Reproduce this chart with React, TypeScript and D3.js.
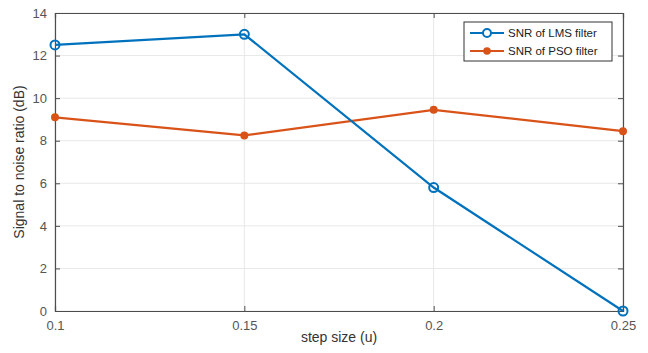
import React, { useRef, useEffect } from "react";
import * as d3 from "d3";

const stepSizes = [0.1, 0.15, 0.2, 0.25];
const lmsSnr = [12.5, 13.0, 5.8, 0];
const psoSnr = [9.1, 8.25, 9.45, 8.45];
const xTicks = [0.1, 0.15, 0.2, 0.25];
const yTicks = [0, 2, 4, 6, 8, 10, 12, 14];
const seriesNames = ["SNR of LMS filter", "SNR of PSO filter"];

const W = 648;
const H = 353;

const Chart = () => {
  const ref = useRef<SVGSVGElement>(null);

  useEffect(() => {
    const svg = d3.select(ref.current);
    svg.selectAll("*").remove();

    const margin = { top: 13, right: 25, bottom: 42, left: 55 };
    const width = W - margin.left - margin.right;
    const height = H - margin.top - margin.bottom;
    const font = "'Liberation Sans', Arial, sans-serif";
    const axisColor = "#4d4d4d";

    svg.append("rect").attr("width", W).attr("height", H).attr("fill", "#fff");

    const g = svg.append("g").attr("transform", `translate(${margin.left},${margin.top})`);

    const x = d3.scaleLinear().domain([0.1, 0.25]).range([0, width]);
    const y = d3.scaleLinear().domain([0, 14]).range([height, 0]);

    // grid
    g.append("g").selectAll("line").data(xTicks).enter().append("line")
      .attr("x1", d => x(d)).attr("x2", d => x(d)).attr("y1", 0).attr("y2", height)
      .attr("stroke", "#e8e8e8").attr("stroke-width", 1);
    g.append("g").selectAll("line").data(yTicks).enter().append("line")
      .attr("x1", 0).attr("x2", width).attr("y1", d => y(d)).attr("y2", d => y(d))
      .attr("stroke", "#e8e8e8").attr("stroke-width", 1);

    // axes, ticks pointing in
    const xAxis = g.append("g").attr("transform", `translate(0,${height})`)
      .call(d3.axisBottom(x).tickValues(xTicks).tickSize(-5).tickPadding(10).tickFormat(d3.format("")));
    const yAxis = g.append("g")
      .call(d3.axisLeft(y).tickValues(yTicks).tickSize(-5).tickPadding(8));
    g.append("g").call(d3.axisTop(x).tickValues(xTicks).tickSize(-5).tickFormat(() => ""));
    g.append("g").attr("transform", `translate(${width},0)`)
      .call(d3.axisRight(y).tickValues(yTicks).tickSize(-5).tickFormat(() => ""));

    g.selectAll(".domain").attr("stroke", axisColor).attr("stroke-width", 1.2);
    g.selectAll(".tick line").attr("stroke", axisColor);
    [xAxis, yAxis].forEach(a =>
      a.selectAll("text").attr("font-family", font).attr("font-size", 13).attr("fill", "#555")
    );

    // lines
    const lms = stepSizes.map((s, i) => ({ s, v: lmsSnr[i] }));
    const pso = stepSizes.map((s, i) => ({ s, v: psoSnr[i] }));
    const line = d3.line<{ s: number; v: number }>().x(d => x(d.s)).y(d => y(d.v));

    const blue = "#0072BD";
    const orange = "#D95319";

    g.append("path").datum(pso).attr("d", line).attr("fill", "none")
      .attr("stroke", orange).attr("stroke-width", 2.2);
    g.append("g").selectAll("circle").data(pso).enter().append("circle")
      .attr("cx", d => x(d.s)).attr("cy", d => y(d.v)).attr("r", 4).attr("fill", orange);

    g.append("path").datum(lms).attr("d", line).attr("fill", "none")
      .attr("stroke", blue).attr("stroke-width", 2.2);
    g.append("g").selectAll("circle").data(lms).enter().append("circle")
      .attr("cx", d => x(d.s)).attr("cy", d => y(d.v)).attr("r", 4.5)
      .attr("fill", "none").attr("stroke", blue).attr("stroke-width", 2);

    // axis labels
    svg.append("text").attr("x", margin.left + width / 2).attr("y", 342)
      .attr("text-anchor", "middle").attr("font-family", font).attr("font-size", 14)
      .attr("fill", "#333").text("step size (u)");
    svg.append("text").attr("transform", `translate(24,${margin.top + height / 2}) rotate(-90)`)
      .attr("text-anchor", "middle").attr("font-family", font).attr("font-size", 14)
      .attr("fill", "#333").text("Signal to noise ratio (dB)");

    // legend
    const lg = svg.append("g").attr("transform", "translate(464,22)");
    lg.append("rect").attr("width", 148).attr("height", 39).attr("fill", "#fff")
      .attr("stroke", "#333").attr("stroke-width", 1);
    const colors = [blue, orange];
    seriesNames.forEach((name, i) => {
      const yy = 11 + i * 18;
      lg.append("line").attr("x1", 6).attr("x2", 40).attr("y1", yy).attr("y2", yy)
        .attr("stroke", colors[i]).attr("stroke-width", 2.2);
      if (i === 0) {
        lg.append("circle").attr("cx", 23).attr("cy", yy).attr("r", 4)
          .attr("fill", "#fff").attr("stroke", blue).attr("stroke-width", 2);
      } else {
        lg.append("circle").attr("cx", 23).attr("cy", yy).attr("r", 3.8).attr("fill", orange);
      }
      lg.append("text").attr("x", 44).attr("y", yy + 4).attr("font-family", font)
        .attr("font-size", 11.5).attr("fill", "#222").text(name);
    });
  }, []);

  return <svg ref={ref} width={W} height={H} style={{ display: "block" }} />;
};

export default function App() {
  return (
    <div style={{ margin: -8 }}>
      <Chart />
    </div>
  );
}
